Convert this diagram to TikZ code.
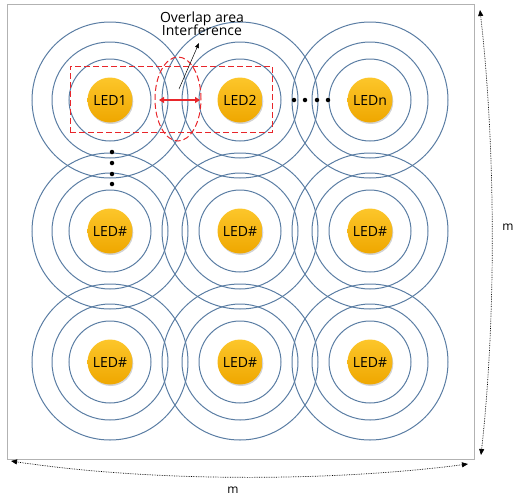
\documentclass[tikz,border=0pt]{standalone}
\usepackage{fontspec}
\setmainfont{Open Sans}
\usetikzlibrary{arrows.meta,shadows,shapes.geometric}
\definecolor{ringc}{HTML}{5A7DA3}
\definecolor{ledtop}{HTML}{FCC62A}
\definecolor{ledbot}{HTML}{EFA700}
\definecolor{redd}{HTML}{E8262B}
\tikzset{
  ring/.style={draw=ringc,line width=1pt},
  led/.style={circle,minimum size=45pt,inner sep=0pt,top color=ledtop,bottom color=ledbot,
     draw=none,font=\fontsize{14}{16}\selectfont,
     drop shadow={shadow xshift=0.8pt,shadow yshift=-1.5pt,opacity=0.35,fill=gray}},
  dotc/.style={circle,fill=black,inner sep=0pt,minimum size=4.5pt},
  reddash/.style={draw=redd,line width=1pt,dash pattern=on 6pt off 3pt},
  dimarrow/.style={densely dotted,line width=0.7pt,{Triangle[length=6pt,width=5pt]}-{Triangle[length=6pt,width=5pt]}},
}
\begin{document}
\begin{tikzpicture}[x=1pt,y=-1pt]
\useasboundingbox (0,0) rectangle (515,499);
\node[draw=black!30,line width=0.8pt,minimum width=467pt,minimum height=455pt,inner sep=0pt,anchor=north west] (frame) at (7,3.5) {};
% rings
\foreach \cx in {110,240,370}{
  \foreach \cy in {100,231,362}{
    \draw[ring] (\cx,\cy) circle (41);
    \draw[ring] (\cx,\cy) circle (58);
    \draw[ring] (\cx,\cy) circle (78);
  }
}
% LEDs
\node[led] (led1) at (110,100) {LED1};
\node[led] (led2) at (240,100) {LED2};
\node[led] (ledn) at (370,100) {LEDn};
\node[led] (l21) at (110,231) {LED\#};
\node[led] (l22) at (240,231) {LED\#};
\node[led] (l23) at (370,231) {LED\#};
\node[led] (l31) at (110,362) {LED\#};
\node[led] (l32) at (240,362) {LED\#};
\node[led] (l33) at (370,362) {LED\#};
% red dashed
\node[reddash,minimum width=202pt,minimum height=66pt,inner sep=0pt] (box) at (171,99) {};
\node[reddash,ellipse,minimum width=46pt,minimum height=84pt,inner sep=0pt] (ell) at (178,99) {};
\coordinate (al) at (159,100);
\coordinate (ar) at (200,100);
\draw[draw=redd,line width=1.6pt,{Triangle[length=5pt,width=6pt]}-{Triangle[length=5pt,width=6pt]}] (al) -- (ar);
% label
\node[font=\fontsize{14}{15}\selectfont,align=center,inner sep=0pt] (lab) at (202,24) {Overlap area\\[-2pt]Interference};
\coordinate (ps) at (179,89);
\coordinate (pe) at (199,43);
\draw[line width=0.5pt,-{Triangle[length=5pt,width=4pt]}] (ps) -- (pe);
% dots
\foreach \x [count=\i] in {294,305,317,328}{\node[dotc] (hd\i) at (\x,100) {};}
\foreach \y [count=\i] in {152,163,174,184}{\node[dotc] (vd\i) at (112,\y) {};}
% dimension arrows
\coordinate (vt) at (480,10);
\coordinate (vb) at (481,455);
\draw[dimarrow] (vt) .. controls (496,150) and (496,320) .. (vb);
\node[font=\fontsize{12}{13}\selectfont] (mv) at (508,227) {m};
\coordinate (hl) at (11,461);
\coordinate (hr) at (468,464);
\draw[dimarrow] (hl) .. controls (150,482) and (330,482) .. (hr);
\node[font=\fontsize{12}{13}\selectfont] (mh) at (233,490) {m};
\end{tikzpicture}
\end{document}
